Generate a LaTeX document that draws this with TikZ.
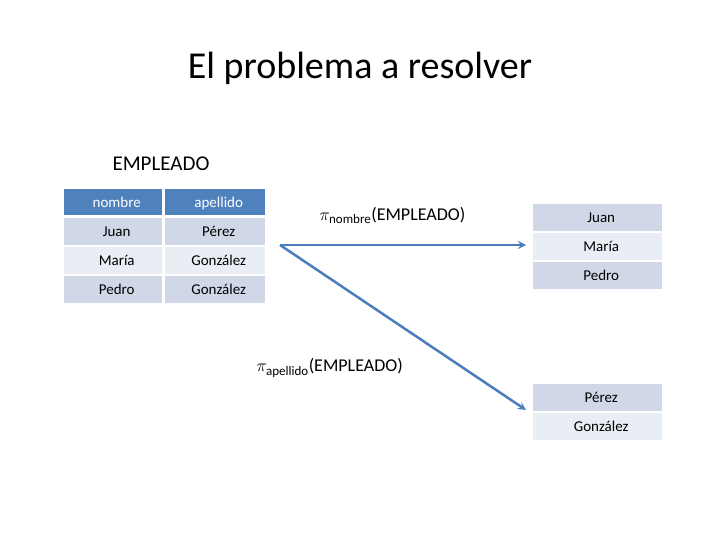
\documentclass[tikz,border=0pt]{standalone}
\usepackage{fontspec}
\setmainfont{Carlito}
\definecolor{hdrblue}{HTML}{4F81BD}
\definecolor{rowdark}{HTML}{D0D8E8}
\definecolor{rowlight}{HTML}{E9EDF4}
\definecolor{arrowblue}{HTML}{4A7EBB}
\tikzset{
  cell/.style={anchor=north west, inner sep=0pt, minimum height=27pt, text depth=0pt, font=\fontsize{15}{15}\selectfont, text height=10pt, align=left},
  hdr/.style={cell, fill=hdrblue, text=white, minimum height=26pt},
  dark/.style={cell, fill=rowdark},
  light/.style={cell, fill=rowlight},
}
\begin{document}
\begin{tikzpicture}[x=1pt,y=-1pt]
    \useasboundingbox (0,0) rectangle (720,540);
    % Title
    \node (title) at (360,68) {\fontsize{38}{38}\selectfont El problema a resolver};
    \node[anchor=west] (emp) at (109,164) {\fontsize{21}{21}\selectfont EMPLEADO};

    % Left table
    \node[hdr, minimum width=98pt] (h1) at (64,189) {\hspace{7pt}nombre\hfill};
    \node[hdr, minimum width=100pt] (h2) at (165,189) {\hspace{7pt}apellido\hfill};
    \node[dark, minimum width=98pt] (n1) at (64,218) {\hspace{7pt}Juan\hfill};
    \node[dark, minimum width=100pt] (a1) at (165,218) {\hspace{7pt}Pérez\hfill};
    \node[light, minimum width=98pt] (n2) at (64,247) {\hspace{7pt}María\hfill};
    \node[light, minimum width=100pt] (a2) at (165,247) {\hspace{7pt}González\hfill};
    \node[dark, minimum width=98pt] (n3) at (64,276) {\hspace{7pt}Pedro\hfill};
    \node[dark, minimum width=100pt] (a3) at (165,276) {\hspace{7pt}González\hfill};

    % Right tables
    \node[dark, minimum width=129pt] (r1) at (533,204) {\hspace{7pt}Juan\hfill};
    \node[light, minimum width=129pt] (r2) at (533,233) {\hspace{7pt}María\hfill};
    \node[dark, minimum width=129pt] (r3) at (533,262) {\hspace{7pt}Pedro\hfill};
    \node[dark, minimum width=129pt] (s1) at (533,384) {\hspace{7pt}Pérez\hfill};
    \node[light, minimum width=129pt] (s2) at (533,413) {\hspace{7pt}González\hfill};

    % Projections
    \node[anchor=west] (pn) at (316,215) {\fontsize{18}{18}\selectfont $\pi_{\mbox{\fontsize{13}{13}\selectfont nombre}}$(EMPLEADO)};
    \node[anchor=west] (pa) at (253,368) {\fontsize{18}{18}\selectfont $\pi_{\mbox{\fontsize{13}{13}\selectfont apellido}}$(EMPLEADO)};

    % Connection
    \coordinate (src) at (280,245);
    \coordinate (dst1) at (526,245);
    \coordinate (dst2) at (526,410);
    \draw[arrowblue, line width=2.5pt, -stealth] (src) -- (dst1);
    \draw[arrowblue, line width=2.5pt, -stealth] (src) -- (dst2);
\end{tikzpicture}
\end{document}
